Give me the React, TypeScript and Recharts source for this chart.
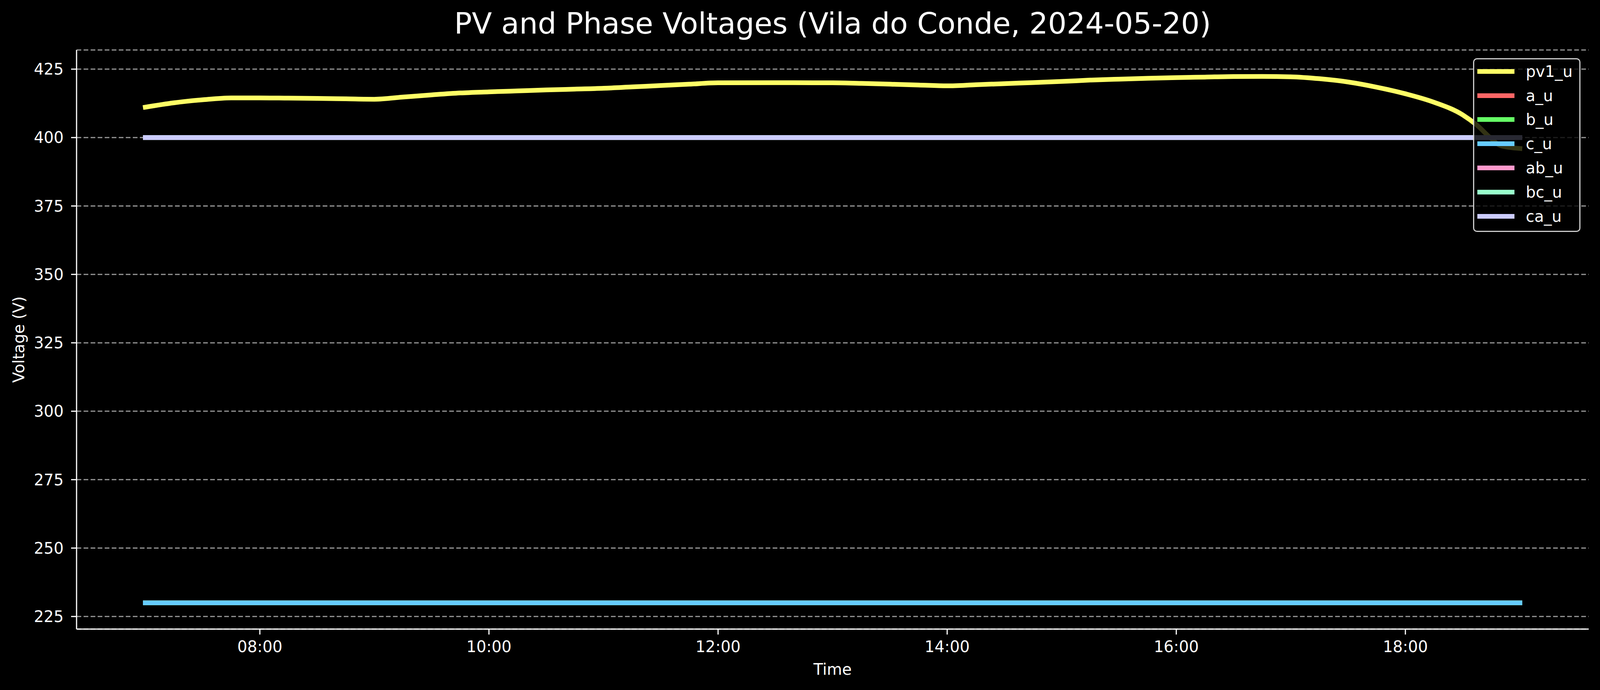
import React from "react";
import { LineChart, Line, XAxis, YAxis, CartesianGrid, Legend, Label } from "recharts";

const FONT = "'DejaVu Sans', sans-serif";

// pv1_u, every 15 minutes (hours as decimals)
const pvTimes = [
  7.0, 7.25, 7.5, 7.75, 8.0, 8.25, 8.5, 8.75, 9.0, 9.25, 9.5, 9.75, 10.0, 10.25, 10.5, 10.75,
  11.0, 11.25, 11.5, 11.75, 12.0, 12.5, 13.0, 13.25, 13.5, 13.75, 14.0, 14.25, 14.5, 14.75,
  15.0, 15.25, 15.5, 15.75, 16.0, 16.25, 16.5, 16.75, 17.0, 17.25, 17.5, 17.75, 18.0, 18.25,
  18.5, 18.625, 18.75, 18.833, 19.0,
];
const pv1U = [
  411.1, 412.7, 413.8, 414.5, 414.5, 414.4, 414.3, 414.15, 414.0, 414.8, 415.6, 416.3, 416.7, 417.05, 417.4, 417.7,
  418.0, 418.5, 419.0, 419.5, 420.0, 420.05, 420.0, 419.8, 419.5, 419.2, 418.9, 419.3, 419.7, 420.1,
  420.5, 421.0, 421.35, 421.65, 421.9, 422.1, 422.3, 422.35, 422.2, 421.5, 420.3, 418.4, 416.0, 412.9,
  408.3, 404.5, 399.6, 397.0, 396.0,
];

// phase and line voltages, hourly
const phaseTimes = [7, 8, 9, 10, 11, 12, 13, 14, 15, 16, 17, 18, 19];
const aU = [230, 230, 230, 230, 230, 230, 230, 230, 230, 230, 230, 230, 230];
const bU = [230, 230, 230, 230, 230, 230, 230, 230, 230, 230, 230, 230, 230];
const cU = [230, 230, 230, 230, 230, 230, 230, 230, 230, 230, 230, 230, 230];
const abU = [400, 400, 400, 400, 400, 400, 400, 400, 400, 400, 400, 400, 400];
const bcU = [400, 400, 400, 400, 400, 400, 400, 400, 400, 400, 400, 400, 400];
const caU = [400, 400, 400, 400, 400, 400, 400, 400, 400, 400, 400, 400, 400];

const xTicks = [8, 10, 12, 14, 16, 18];
const yTicks = [225, 250, 275, 300, 325, 350, 375, 400, 425];

const X_DOMAIN = [6.4, 19.6];
const Y_DOMAIN = [220.4, 432.0];

const series = [
  { name: "pv1_u", color: "#ffff66", times: pvTimes, values: pv1U },
  { name: "a_u", color: "#ff6666", times: phaseTimes, values: aU },
  { name: "b_u", color: "#66ff66", times: phaseTimes, values: bU },
  { name: "c_u", color: "#66ccff", times: phaseTimes, values: cU },
  { name: "ab_u", color: "#ff99cc", times: phaseTimes, values: abU },
  { name: "bc_u", color: "#99ffcc", times: phaseTimes, values: bcU },
  { name: "ca_u", color: "#ccccff", times: phaseTimes, values: caU },
];
const seriesOrder = series.map((s) => s.name);

const toRows = (times: number[], values: number[]) =>
  times.map((t, i) => ({ t, v: values[i] }));

const hourLabel = (h: number) => `${String(Math.floor(h)).padStart(2, "0")}:00`;

// the browser may give us less than the 5367px asked for; keep the
// left margin and fonts fixed and let the plot area take what is left
const FULL_W = 5367;
const H = 1767;
const M_LEFT = 196;
const M_RIGHT = 29;

function LegendBox(props: any) {
  // keep plotting order, not Recharts' alphabetical one
  const payload = [...(props.payload || [])].sort(
    (a: any, b: any) => seriesOrder.indexOf(a.value) - seriesOrder.indexOf(b.value)
  );
  return (
    <div
      style={{
        boxSizing: "border-box",
        width: 275,
        height: 445,
        border: "3px solid rgba(255,255,255,0.8)",
        borderRadius: 10,
        background: "rgba(0,0,0,0.8)",
        paddingLeft: 8,
      }}
    >
      {payload.map((entry: any) => (
        <div key={entry.value} style={{ height: 61.8, display: "flex", alignItems: "center" }}>
          <span style={{ display: "inline-block", width: 95, height: 12, background: entry.color }} />
          <span style={{ marginLeft: 29, fontSize: 40, color: "#fff", fontFamily: FONT }}>{entry.value}</span>
        </div>
      ))}
    </div>
  );
}

export default function App() {
  const W = typeof window !== "undefined" ? Math.min(window.innerWidth || FULL_W, FULL_W) : FULL_W;
  const plotW = W - M_LEFT - M_RIGHT;
  return (
    <div style={{ position: "absolute", left: 0, top: 0, width: W, height: H, background: "#000", overflow: "hidden" }}>
      <div
        style={{
          position: "absolute",
          left: M_LEFT,
          width: plotW,
          top: 23,
          textAlign: "center",
          fontFamily: FONT,
          fontSize: 75,
          lineHeight: "75px",
          color: "#fff",
          whiteSpace: "nowrap",
        }}
      >
        PV and Phase Voltages (Vila do Conde, 2024-05-20)
      </div>
      <LineChart width={W} height={H} margin={{ top: 128, right: M_RIGHT, bottom: 36, left: 46 }}>
        <CartesianGrid vertical={false} stroke="#969696" strokeWidth={3} strokeDasharray="12 6" />
        <XAxis
          dataKey="t"
          type="number"
          domain={X_DOMAIN}
          ticks={xTicks}
          tickFormatter={hourLabel}
          allowDataOverflow
          height={120}
          stroke="#fff"
          axisLine={{ stroke: "#fff", strokeWidth: 3 }}
          tickLine={{ stroke: "#fff", strokeWidth: 3 }}
          tickSize={14}
          tickMargin={17}
          tick={{ fill: "#fff", fontSize: 40, fontFamily: FONT }}
        >
          <Label
            content={(p: any) => {
              const vb = p.viewBox || { x: M_LEFT, y: 1611, width: plotW };
              return (
                <text x={vb.x + vb.width / 2} y={vb.y + 117} textAnchor="middle" fill="#fff" fontSize={40} fontFamily={FONT}>
                  Time
                </text>
              );
            }}
          />
        </XAxis>
        <XAxis
          xAxisId="top"
          orientation="top"
          type="number"
          domain={X_DOMAIN}
          height={0}
          tick={false}
          tickLine={false}
          axisLine={{ stroke: "#fff", strokeWidth: 3 }}
        />
        <YAxis
          type="number"
          domain={Y_DOMAIN}
          ticks={yTicks}
          allowDataOverflow
          width={150}
          axisLine={{ stroke: "#fff", strokeWidth: 3 }}
          tickLine={{ stroke: "#fff", strokeWidth: 3 }}
          tickSize={14}
          tickMargin={19}
          tick={{ fill: "#fff", fontSize: 40, fontFamily: FONT }}
        >
          <Label
            content={(p: any) => {
              const vb = p.viewBox || { x: 46, y: 128, height: 1483 };
              const x = vb.x + 16;
              const y = vb.y + vb.height / 2;
              return (
                <text x={x} y={y} transform={`rotate(-90, ${x}, ${y})`} textAnchor="middle" fill="#fff" fontSize={40} fontFamily={FONT}>
                  Voltage (V)
                </text>
              );
            }}
          />
        </YAxis>
        <YAxis
          yAxisId="right"
          orientation="right"
          type="number"
          domain={Y_DOMAIN}
          width={0}
          tick={false}
          tickLine={false}
          axisLine={{ stroke: "#fff", strokeWidth: 3 }}
        />
        {series.map((s) => (
          <Line
            key={s.name}
            name={s.name}
            data={toRows(s.times, s.values)}
            dataKey="v"
            type="monotone"
            stroke={s.color}
            strokeWidth={12}
            strokeLinecap="square"
            strokeLinejoin="round"
            dot={false}
            activeDot={false}
            isAnimationActive={false}
          />
        ))}
        <Legend
          layout="horizontal"
          verticalAlign="middle"
          align="center"
          content={<LegendBox />}
          wrapperStyle={{ left: W - M_RIGHT - 21 - 275, top: 149, width: 275, height: 445 }}
        />
      </LineChart>
    </div>
  );
}
